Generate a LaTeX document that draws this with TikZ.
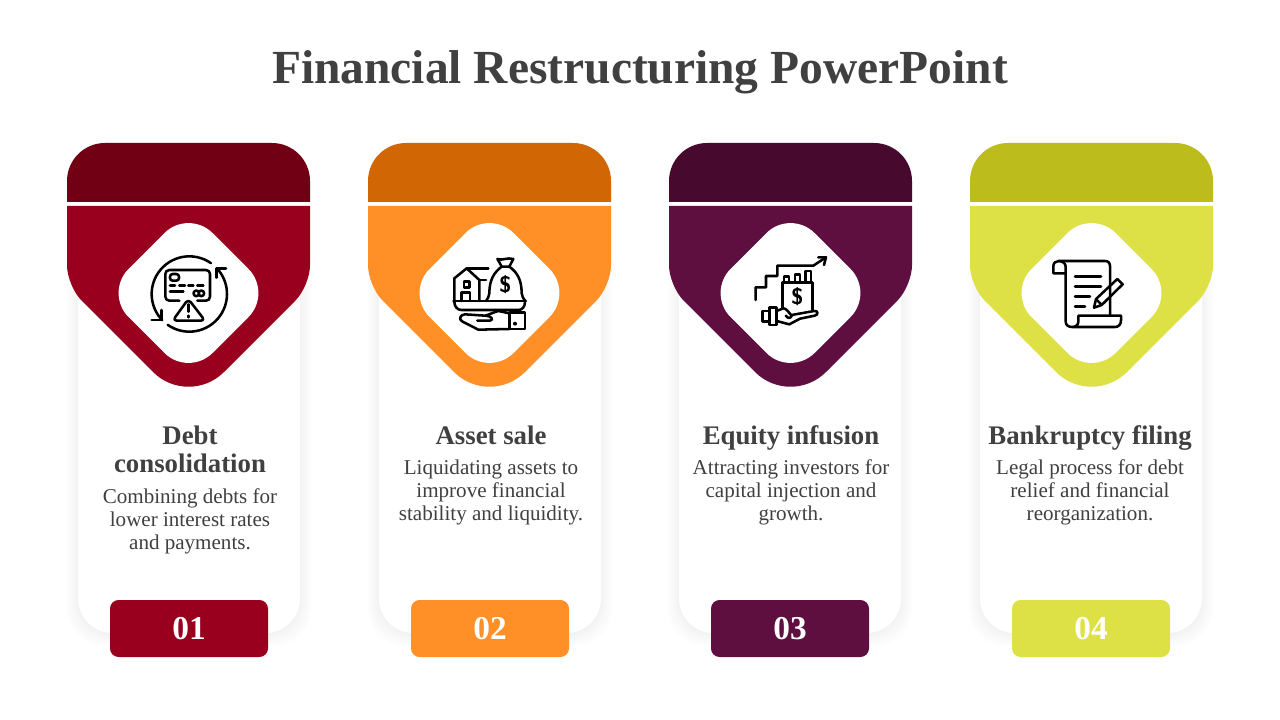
\documentclass[tikz,border=0pt]{standalone}
\usepackage{fontspec}
\setmainfont{Liberation Serif}
\definecolor{txt}{HTML}{404040}
\definecolor{redm}{HTML}{98001E}\definecolor{redd}{HTML}{720015}
\definecolor{orgm}{HTML}{FF8F27}\definecolor{orgd}{HTML}{D16604}
\definecolor{purm}{HTML}{5E0F3F}\definecolor{purd}{HTML}{470A2E}
\definecolor{ylwm}{HTML}{DDE146}\definecolor{ylwd}{HTML}{BCBD1C}
\tikzset{
 titletext/.style={text=txt,font=\fontsize{35.6}{40}\selectfont\bfseries,inner sep=0pt,anchor=base},
 headtext/.style={text=txt,font=\fontsize{20.1}{20.5}\selectfont\bfseries,inner sep=0pt,align=center,anchor=base},
 bodytext/.style={text=txt,font=\fontsize{15.8}{16.9}\selectfont,inner sep=0pt,align=center,anchor=base},
 numtext/.style={text=white,font=\fontsize{25}{25}\selectfont\bfseries,inner sep=0pt},
 iconline/.style={draw=black,line width=1.9pt,line join=round,line cap=round},
 badge/.style={rounded corners=6.5pt},
}
\newcommand{\cardset}[5]{% card x, badge x, header x, main colour, dark colour
 \foreach \i in {1,...,12}{
  \fill[black,opacity=0.0045,rounded corners=27pt] ({#1-\i},240) rectangle ({#1+222+\i},{633+\i+1});
 }
 \fill[white,rounded corners=26pt] (#1,240) rectangle ({#1+222},633);
 \begin{scope}[shift={(#3,0)}]
  \fill[#5] (0,202) -- (0,181) .. controls (0,160) and (17,143) .. (38,143) -- (205,143) .. controls (226,143) and (243,160) .. (243,181) -- (243,202) -- cycle;
  \fill[#4] (0,206) -- (243,206) -- (243,265.3) .. controls (243,276.7) and (236.4,292.6) .. (228.4,300.6) -- (156.9,372.1) .. controls (137.4,391.6) and (105.6,391.6) .. (86.1,372.1) -- (14.6,300.6) .. controls (6.6,292.6) and (0,276.7) .. (0,265.3) -- cycle;
  \begin{scope}[shift={(121.5,293)}]
   \fill[white] (-24,-60) .. controls (-10.8,-73.2) and (10.8,-73.2) .. (24,-60) -- (60,-24) .. controls (73.2,-10.8) and (73.2,10.8) .. (60,24) -- (24,60) .. controls (10.8,73.2) and (-10.8,73.2) .. (-24,60) -- (-60,24) .. controls (-73.2,10.8) and (-73.2,-10.8) .. (-60,-24) -- cycle;
  \end{scope}
 \end{scope}
 \fill[#4,badge] (#2,600) rectangle ({#2+158},657);
}
\begin{document}
\begin{tikzpicture}[x=0.75pt,y=-0.75pt]
\useasboundingbox (0,0) rectangle (1280,720);
\fill[white] (0,0) rectangle (1280,720);
\node[titletext] (title) at (640,84) {Financial Restructuring PowerPoint};

\cardset{78}{110}{67}{redm}{redd}
\cardset{379}{411}{368}{orgm}{orgd}
\cardset{679}{711}{669}{purm}{purd}
\cardset{980}{1012}{970}{ylwm}{ylwd}

% icon 1
\begin{scope}[shift={(120,225)},x=0.25pt,y=-0.25pt,iconline]
 \draw (208,207) ++(-55:113) arc[start angle=-55,end angle=-224,radius=113];
 \draw (208,207) ++(125:113) arc[start angle=125,end angle=-43,radius=113];
 \draw (95,285) -- (125,285) -- (125,255);
 \draw (318,130) -- (290,130) -- (290,158);
 \draw (178,227) -- (148,227) .. controls (141,227) and (136,222) .. (136,215) -- (136,147) .. controls (136,140) and (141,135) .. (148,135) -- (258,135) .. controls (265,135) and (270,140) .. (270,147) -- (270,215) .. controls (270,222) and (265,227) .. (258,227) -- (232,227);
 \draw[rounded corners=2pt] (150,147) rectangle (177,167);
 \draw (150,182) -- (165,182) (178,182) -- (195,182) (205,182) -- (220,182) (232,182) -- (250,182);
 \draw (150,200) -- (190,200);
 \draw (229,205) circle (8.5) (244,205) circle (8.5);
 \draw[rounded corners=3pt] (205,222) -- (255,287) -- (158,287) -- cycle;
 \draw (205,238) -- (205,260) (205,272) -- (205,277);
\end{scope}

% icon 2
\begin{scope}[shift={(420,225)},x=0.25pt,y=-0.25pt,iconline]
 \draw (103,228) -- (103,160) -- (140,130) -- (178,165) -- (178,228);
 \draw (140,130) -- (205,130);
 \draw (178,165) -- (198,165);
 \draw (125,228) -- (125,203) -- (150,203) -- (150,228);
 \draw (132,170) rectangle (148,188);
 \draw (245,125) .. controls (240,115) and (236,108) .. (232,102) .. controls (248,108) and (262,96) .. (280,102) .. controls (276,110) and (272,116) .. (268,125) -- cycle;
 \draw (245,125) .. controls (222,142) and (208,165) .. (208,205) .. controls (208,215) and (202,222) .. (198,228);
 \draw (268,125) .. controls (292,142) and (305,165) .. (305,205) .. controls (305,215) and (312,222) .. (316,228);
 \node[inner sep=0pt,text=black,font=\fontsize{17}{17}\selectfont\sffamily\bfseries] (dollara) at (256,178) {\$};
 \draw (100,228) -- (318,228);
 \draw (103,230) .. controls (103,245) and (112,255) .. (125,255) -- (295,255) .. controls (307,255) and (315,245) .. (315,230);
 \draw (268,262) rectangle (315,312);
 \fill[black,draw=none] (285,296) circle (6);
 \draw (268,265) -- (235,258) .. controls (220,262) and (205,270) .. (195,272) -- (135,268) .. controls (120,268) and (115,285) .. (128,290) -- (175,314) -- (268,312);
 \draw (195,272) .. controls (215,272) and (222,285) .. (210,287) -- (172,287);
\end{scope}

% icon 3
\begin{scope}[shift={(720,225)},x=0.25pt,y=-0.25pt,iconline]
 \draw (107,225) -- (107,187) -- (138,187) -- (138,153) -- (172,153) -- (172,122) -- (280,122) -- (318,97);
 \draw (295,97) -- (318,97) -- (312,120);
 \draw (187,248) -- (187,172) -- (278,172) -- (278,255);
 \draw (192,172) -- (192,155) -- (207,155) -- (207,172);
 \draw (225,172) -- (225,148) -- (240,148) -- (240,172);
 \draw (257,172) -- (257,138) -- (273,138) -- (273,172);
 \node[inner sep=0pt,text=black,font=\fontsize{17}{17}\selectfont\sffamily\bfseries] (dollarb) at (232,216) {\$};
 \draw (148,258) -- (128,258) -- (128,290) -- (148,290);
 \draw (148,248) rectangle (170,300);
 \draw (170,258) -- (190,250) .. controls (200,250) and (205,262) .. (215,272) .. controls (212,280) and (205,282) .. (197,272);
 \draw (215,270) -- (282,258) .. controls (295,256) and (296,270) .. (284,272) -- (240,281) -- (208,298) -- (170,288);
\end{scope}

% icon 4
\begin{scope}[shift={(1020,225)},x=0.25pt,y=-0.25pt,iconline]
 \draw (116,108) -- (255,108) .. controls (265,108) and (270,114) .. (270,124) -- (270,270);
 \draw (137,145) -- (100,145) -- (100,124) .. controls (100,114) and (107,108) .. (116,108) .. controls (127,108) and (137,115) .. (137,125) -- (137,290) .. controls (137,300) and (145,306) .. (156,306) -- (285,306) .. controls (296,306) and (303,298) .. (303,286) -- (303,272) -- (175,272) -- (175,290) .. controls (175,300) and (167,306) .. (156,306);
 \draw (165,155) -- (243,155) (165,185) -- (243,185) (165,215) -- (210,215) (165,245) -- (195,245);
 \draw (222,248) -- (228,222) -- (292,162) -- (308,178) -- (245,240) -- cycle;
 \draw (228,222) -- (245,240);
\end{scope}

% texts
\node[headtext] (h1a) at (190,444) {Debt};
\node[headtext] (h1b) at (190,472) {consolidation};
\node[headtext] (h2) at (491,444) {Asset sale};
\node[headtext] (h3) at (791,444) {Equity infusion};
\node[headtext] (h4) at (1090,444) {Bankruptcy filing};
\node[bodytext] (b1) at (190,549) {Combining debts for\\lower interest rates\\and payments.};
\node[bodytext] (b2) at (491,520) {Liquidating assets to\\improve financial\\stability and liquidity.};
\node[bodytext] (b3) at (791,520) {Attracting investors for\\capital injection and\\growth.};
\node[bodytext] (b4) at (1090,520) {Legal process for debt\\relief and financial\\reorganization.};
\node[numtext] (n1) at (189,629) {01};
\node[numtext] (n2) at (490,629) {02};
\node[numtext] (n3) at (790,629) {03};
\node[numtext] (n4) at (1091,629) {04};
\end{tikzpicture}
\end{document}
